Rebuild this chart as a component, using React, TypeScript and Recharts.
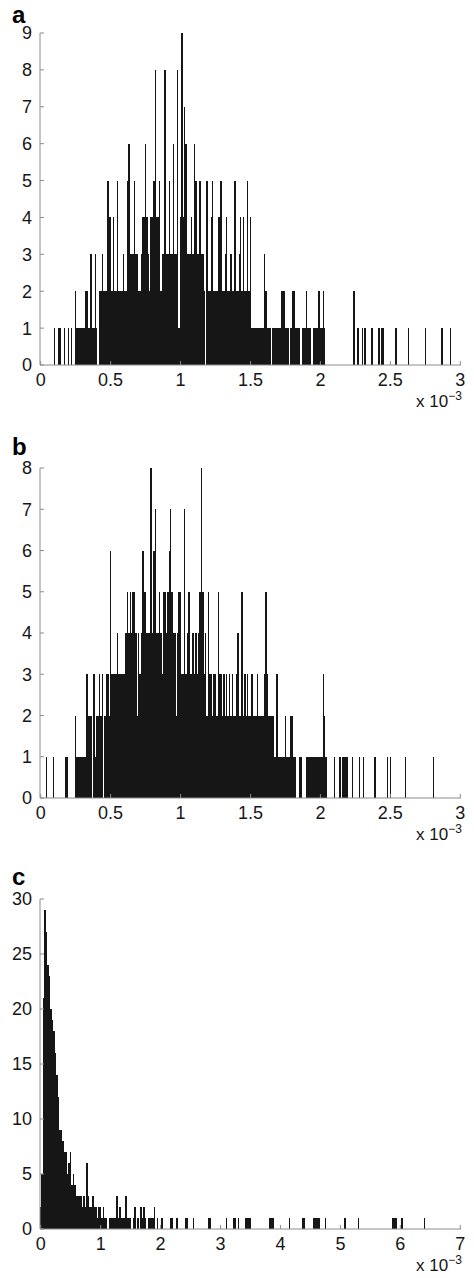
import React from 'react';
import { ComposedChart, Bar, XAxis, YAxis } from 'recharts';

// bin widths, in units of 10^-3
const binA = 0.01;
const binB = 0.01;
const binC = 0.025;

// counts per bin, panel a (0 .. 3)
const countsA = [
  0, 0, 0, 0, 0, 0, 0, 0, 0, 0,
  1, 0, 0, 1, 1, 0, 0, 1, 0, 0,
  1, 0, 1, 0, 0, 2, 1, 1, 1, 1,
  1, 1, 2, 2, 1, 1, 3, 1, 1, 3,
  1, 0, 2, 2, 3, 2, 2, 2, 5, 4,
  4, 2, 4, 2, 2, 5, 2, 2, 2, 3,
  2, 2, 5, 6, 3, 3, 3, 5, 3, 3,
  2, 2, 3, 4, 4, 6, 4, 3, 2, 4,
  4, 5, 8, 4, 4, 5, 2, 3, 3, 8,
  3, 3, 5, 3, 3, 6, 3, 3, 8, 1,
  4, 9, 4, 7, 6, 3, 3, 3, 4, 3,
  6, 5, 3, 3, 5, 3, 3, 2, 0, 5,
  2, 2, 4, 5, 2, 2, 2, 4, 4, 5,
  2, 2, 3, 4, 2, 2, 3, 2, 2, 5,
  2, 2, 3, 4, 2, 4, 2, 2, 5, 2,
  4, 1, 1, 1, 1, 1, 1, 1, 1, 1,
  3, 2, 1, 1, 1, 0, 1, 1, 1, 1,
  1, 1, 2, 2, 2, 1, 1, 1, 0, 1,
  2, 2, 1, 1, 1, 1, 0, 1, 1, 1,
  2, 1, 1, 1, 0, 1, 1, 1, 1, 2,
  1, 1, 2, 1, 0, 0, 0, 0, 0, 0,
  0, 0, 0, 0, 0, 0, 0, 0, 0, 0,
  0, 0, 0, 0, 2, 0, 0, 1, 0, 0,
  1, 0, 1, 0, 0, 0, 0, 1, 0, 0,
  0, 0, 1, 0, 1, 1, 0, 0, 0, 0,
  0, 0, 0, 0, 1, 0, 0, 0, 0, 0,
  0, 0, 0, 1, 0, 0, 0, 0, 0, 0,
  0, 0, 0, 0, 0, 1, 0, 0, 0, 0,
  0, 0, 0, 0, 0, 0, 0, 1, 0, 0,
  0, 0, 0, 1, 0, 0, 0, 0, 0, 0,
  0,
];

// counts per bin, panel b (0 .. 3)
const countsB = [
  0, 0, 0, 0, 1, 0, 0, 0, 0, 1,
  0, 0, 0, 0, 0, 0, 0, 0, 1, 1,
  0, 0, 0, 0, 0, 2, 1, 1, 1, 1,
  1, 1, 1, 3, 2, 2, 2, 0, 3, 1,
  2, 2, 3, 2, 3, 0, 2, 3, 3, 2,
  6, 3, 3, 3, 3, 4, 3, 3, 3, 3,
  3, 4, 5, 4, 5, 4, 5, 5, 4, 2,
  4, 3, 4, 6, 5, 5, 4, 4, 4, 8,
  4, 6, 7, 4, 4, 5, 4, 3, 5, 5,
  4, 5, 6, 7, 5, 4, 4, 2, 4, 5,
  5, 3, 3, 7, 3, 4, 5, 3, 3, 4,
  3, 4, 3, 4, 5, 8, 5, 3, 4, 2,
  5, 3, 3, 2, 3, 3, 2, 5, 3, 3,
  2, 3, 2, 3, 2, 3, 2, 3, 2, 2,
  3, 4, 2, 2, 5, 2, 3, 2, 3, 2,
  2, 3, 2, 2, 2, 3, 2, 2, 2, 2,
  3, 5, 3, 2, 2, 2, 2, 1, 1, 3,
  1, 1, 1, 1, 1, 2, 1, 1, 1, 2,
  2, 1, 1, 0, 0, 1, 1, 0, 0, 0,
  1, 1, 1, 1, 1, 1, 1, 1, 1, 1,
  1, 1, 3, 2, 1, 0, 0, 0, 0, 0,
  1, 0, 0, 0, 1, 0, 1, 1, 1, 1,
  0, 0, 0, 1, 0, 0, 0, 0, 1, 0,
  0, 1, 0, 0, 0, 0, 0, 0, 0, 1,
  0, 0, 0, 0, 0, 0, 0, 0, 1, 0,
  1, 0, 0, 0, 0, 0, 0, 0, 0, 0,
  0, 1, 0, 0, 0, 0, 0, 0, 0, 0,
  0, 0, 0, 0, 0, 0, 0, 0, 0, 0,
  0, 1, 0, 0, 0, 0, 0, 0, 0, 0,
  0, 0, 0, 0, 0, 0, 0, 0, 0, 0,
  0,
];

// counts per bin, panel c (0 .. 7)
const countsC = [
  2, 5, 21, 29, 27, 24, 23, 20, 19, 18, 16, 14, 12, 9, 9, 8, 7, 7, 5, 6,
  7, 4, 5, 4, 3, 3, 3, 3, 2, 3, 2, 6, 3, 2, 2, 3, 2, 2, 1, 2,
  2, 1, 2, 1, 1, 0, 1, 1, 1, 1, 1, 3, 1, 2, 1, 1, 1, 3, 1, 1,
  1, 0, 1, 2, 0, 1, 0, 2, 1, 2, 1, 0, 1, 1, 1, 1, 2, 0, 1, 0,
  0, 1, 0, 0, 0, 0, 0, 1, 1, 0, 0, 1, 0, 0, 0, 0, 0, 1, 1, 0,
  0, 0, 1, 0, 0, 0, 0, 0, 0, 0, 0, 0, 1, 1, 0, 0, 0, 0, 0, 0,
  0, 0, 0, 0, 1, 0, 0, 0, 0, 1, 1, 0, 1, 0, 0, 0, 0, 1, 1, 1,
  1, 0, 0, 0, 0, 0, 0, 0, 0, 0, 0, 0, 0, 1, 1, 1, 0, 0, 0, 0,
  0, 0, 0, 0, 0, 0, 1, 0, 0, 0, 0, 0, 0, 0, 0, 1, 1, 0, 0, 0,
  0, 0, 1, 1, 1, 1, 1, 0, 0, 0, 1, 0, 0, 0, 0, 0, 0, 0, 0, 0,
  0, 0, 0, 1, 0, 0, 0, 0, 0, 0, 0, 0, 1, 0, 0, 0, 0, 0, 0, 0,
  0, 0, 0, 0, 0, 0, 0, 0, 0, 0, 0, 0, 0, 0, 0, 1, 1, 1, 0, 0,
  0, 1, 0, 0, 0, 0, 0, 0, 0, 0, 0, 0, 0, 0, 0, 0, 1, 0, 0, 0,
  0, 0, 0, 0, 0, 0, 0, 0, 0, 0, 0, 0, 0, 0, 0, 0, 0, 0, 0, 0,
  0,
];

const yTicksA = [0, 1, 2, 3, 4, 5, 6, 7, 8, 9];
const yTicksB = [0, 1, 2, 3, 4, 5, 6, 7, 8];
const yTicksC = [0, 5, 10, 15, 20, 25, 30];

const font = '"Liberation Sans", Arial, Helvetica, sans-serif';
const frame = '#8c8c8c';
const ink = '#161616';

const toRows = (counts: number[], step: number) =>
  counts.map((n, i) => ({ x: Math.round(i * step * 1000) / 1000, n }));

const fmt = (v: any) => String(Math.round(Number(v) * 100) / 100);

type HistProps = {
  top: number;
  height: number;
  padTop: number;
  letterTop: number;
  data: { x: number; n: number }[];
  yMax: number;
  yTicks: number[];
  every: number;
  barSize: number;
  letter: string;
};

function Hist({ top, height, padTop, letterTop, data, yMax, yTicks, every, barSize, letter }: HistProps) {
  const plotBottom = top + height - 45;
  return (
    <>
      <div style={{ position: 'absolute', left: 0, top }}>
        <ComposedChart
          width={474}
          height={height}
          data={data}
          margin={{ top: padTop, right: 13, bottom: 0, left: 0 }}
          barCategoryGap={0}
          barGap={0}
        >
          <XAxis
            dataKey="x"
            interval={every}
            height={45}
            tickSize={-4}
            tickMargin={12}
            tickFormatter={fmt}
            stroke={frame}
            tick={{ fill: ink, fontSize: 18, fontFamily: font }}
          />
          <XAxis
            xAxisId="top"
            orientation="top"
            dataKey="x"
            interval={every}
            height={0}
            tickSize={-4}
            tick={false}
            stroke={frame}
          />
          <YAxis
            type="number"
            domain={[0, yMax]}
            ticks={yTicks}
            width={40}
            tickSize={-4}
            tickMargin={12}
            stroke={frame}
            tick={{ fill: ink, fontSize: 18, fontFamily: font }}
            allowDataOverflow
          />
          <YAxis
            yAxisId="r"
            orientation="right"
            type="number"
            domain={[0, yMax]}
            ticks={yTicks}
            width={0}
            tickSize={-4}
            tick={false}
            stroke={frame}
            allowDataOverflow
          />
          <Bar dataKey="n" fill={ink} barSize={barSize} isAnimationActive={false} />
        </ComposedChart>
      </div>
      <div
        style={{
          position: 'absolute',
          left: 12,
          top: letterTop,
          fontFamily: font,
          fontWeight: 'bold',
          fontSize: 24,
          lineHeight: '18px',
          color: '#000',
        }}
      >
        {letter}
      </div>
      <div
        style={{
          position: 'absolute',
          left: 416,
          top: plotBottom + 28,
          fontFamily: font,
          fontSize: 17,
          lineHeight: '17px',
          color: ink,
          whiteSpace: 'nowrap',
        }}
      >
        x 10
        <span style={{ fontSize: 12, position: 'relative', top: -7 }}>{'\u22123'}</span>
      </div>
    </>
  );
}

export default function App() {
  return (
    <div
      style={{
        position: 'absolute',
        left: 0,
        top: 0,
        width: 474,
        height: 1278,
        background: '#fff',
        overflow: 'hidden',
      }}
    >
      <style>{'.recharts-bar-rectangle path { shape-rendering: crispEdges; }'}</style>
      <Hist top={0} height={410} padTop={33} letterTop={6} data={toRows(countsA, binA)} yMax={9} yTicks={yTicksA} every={49} barSize={1.398} letter="a" />
      <Hist top={420} height={423} padTop={48} letterTop={438} data={toRows(countsB, binB)} yMax={8} yTicks={yTicksB} every={49} barSize={1.398} letter="b" />
      <Hist top={860} height={414} padTop={39} letterTop={868} data={toRows(countsC, binC)} yMax={30} yTicks={yTicksC} every={39} barSize={1.498} letter="c" />
    </div>
  );
}
